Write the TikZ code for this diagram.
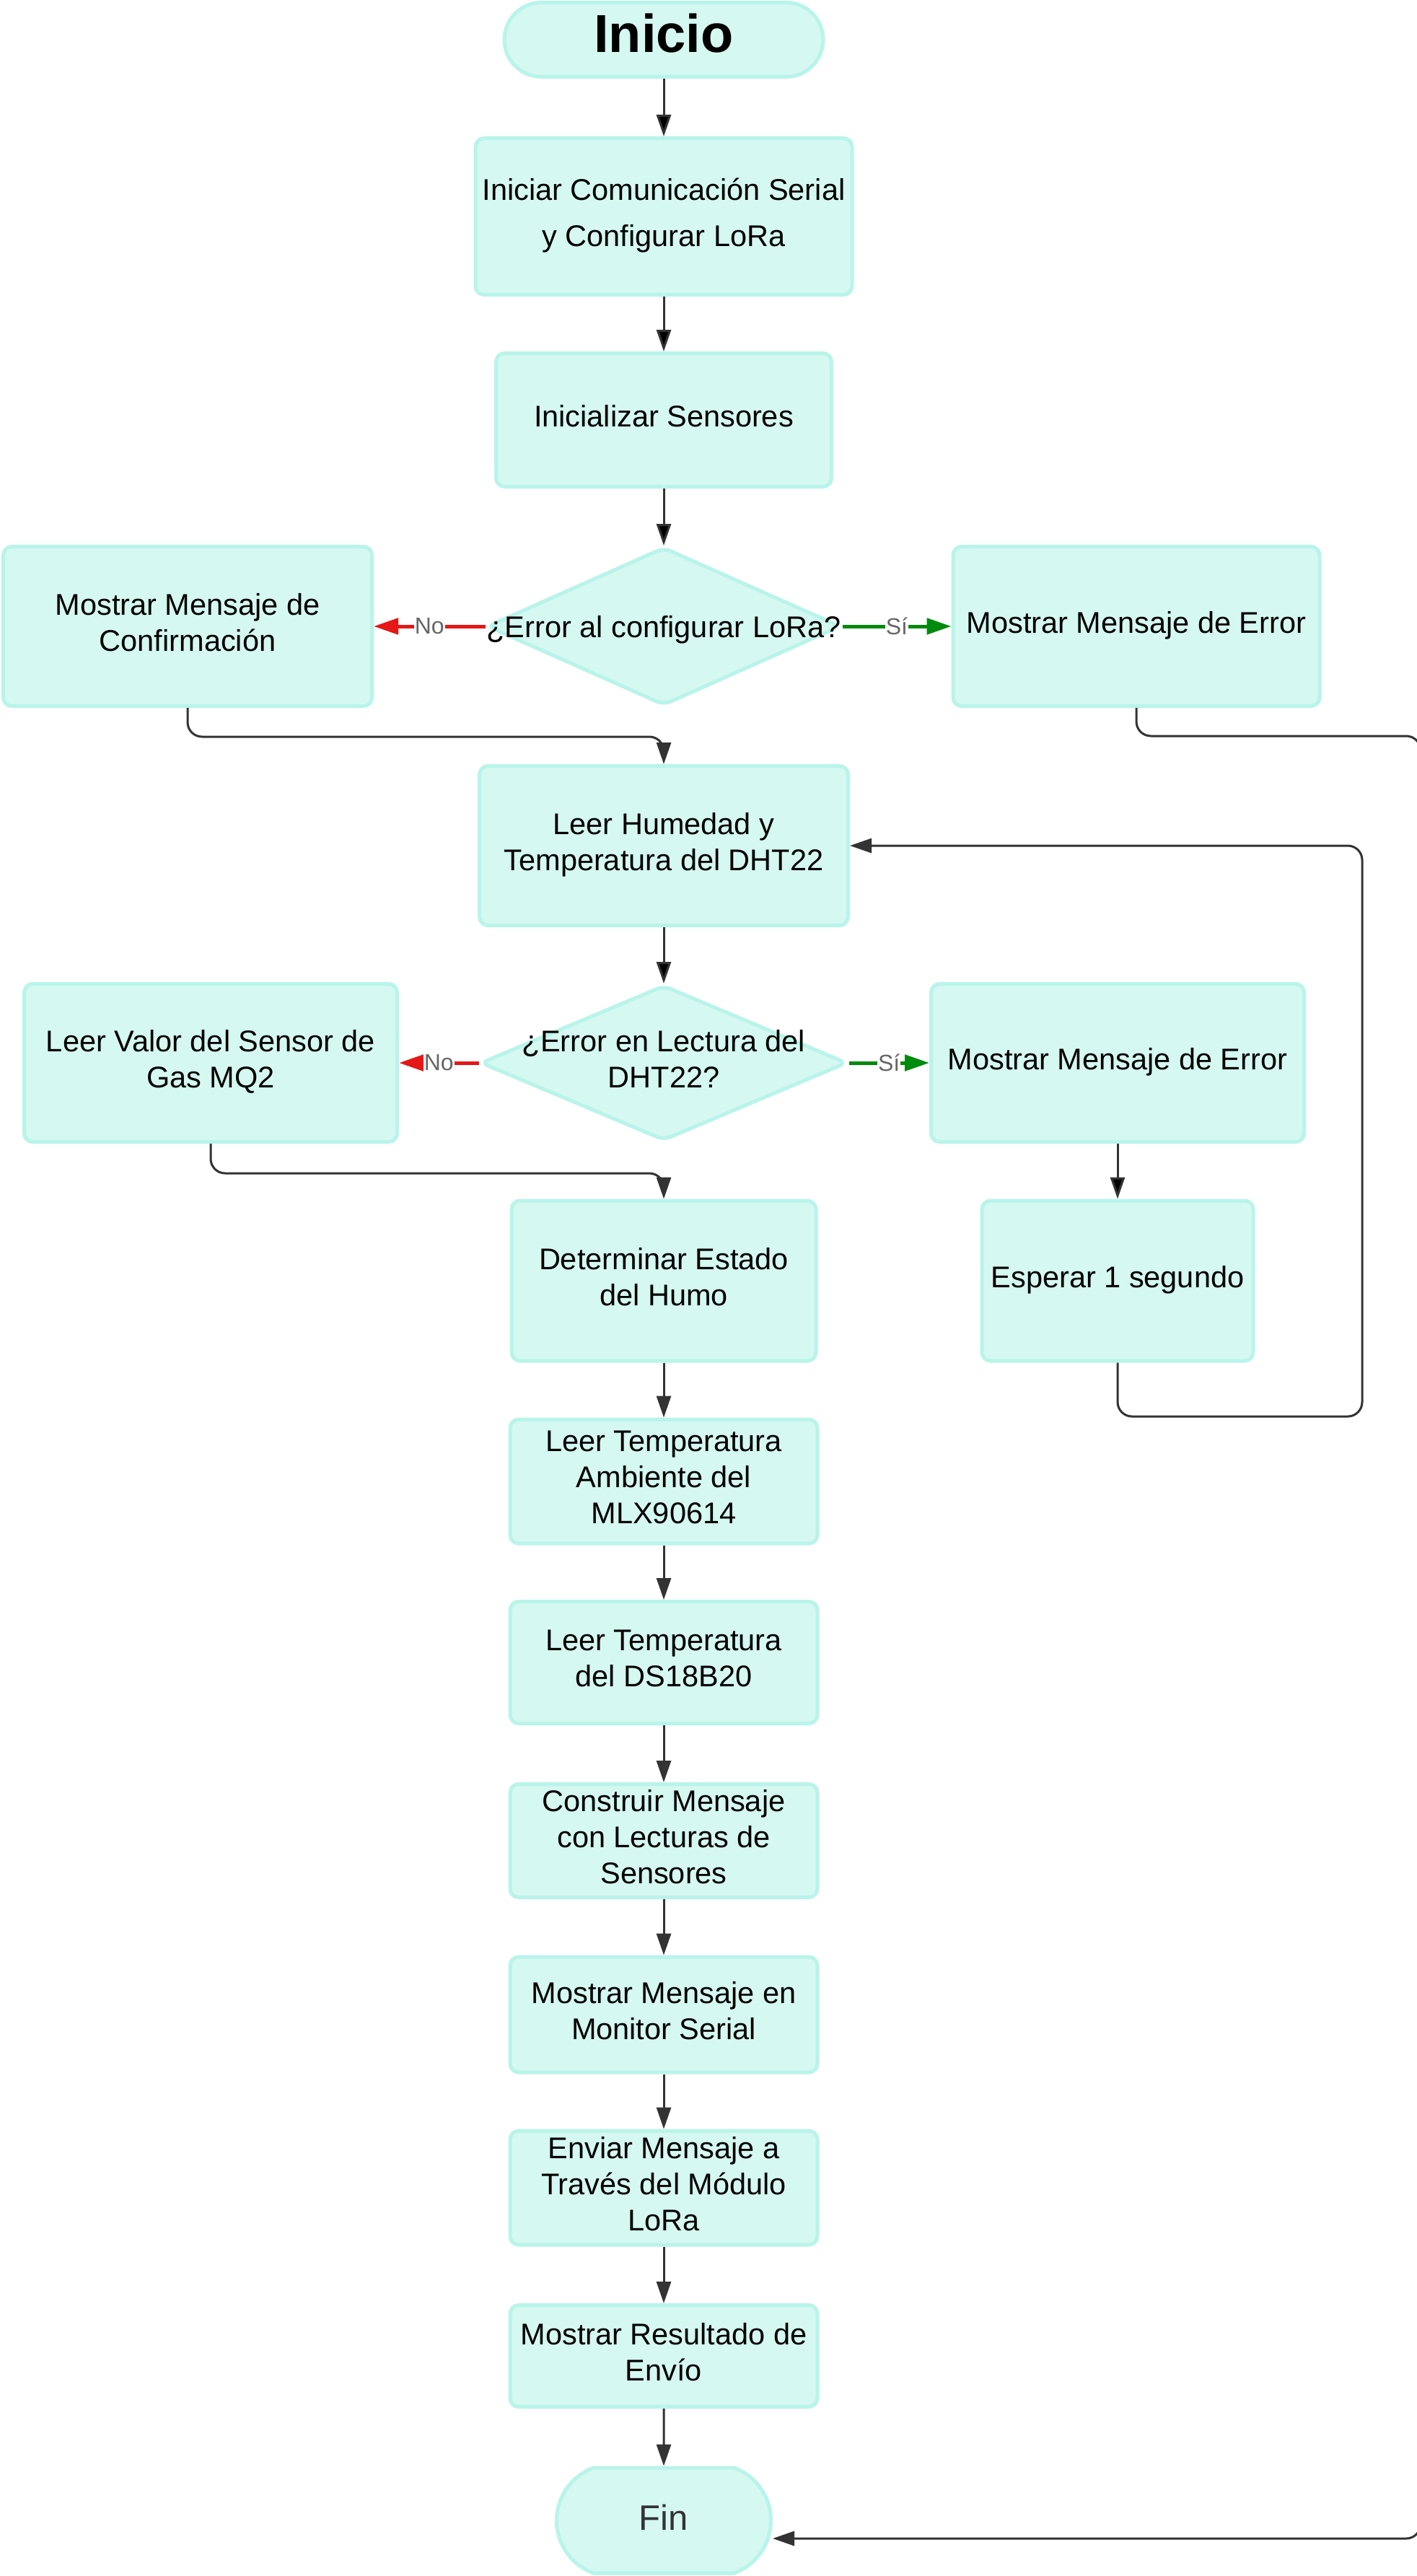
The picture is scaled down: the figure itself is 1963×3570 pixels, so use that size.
\documentclass[tikz,border=0pt]{standalone}
\usepackage{fontspec}
\setmainfont{Liberation Sans}
\usetikzlibrary{shapes.geometric,shapes.misc,arrows.meta}

\definecolor{mint}{HTML}{D5F8F1}
\definecolor{mintline}{HTML}{B8F4EA}
\definecolor{wiregray}{HTML}{333333}
\definecolor{nored}{HTML}{E51717}
\definecolor{sigreen}{HTML}{008A0E}
\definecolor{taggray}{HTML}{666666}

\begin{document}
\begin{tikzpicture}[x=1pt,y=-1pt,
    >={Triangle[length=30pt,width=20pt]},
    base/.style={draw=mintline,fill=mint,line width=5pt,inner sep=0pt,align=center,
                 text depth=12pt,font=\fontsize{41.5}{50}\selectfont},
    box/.style={base,shape=rectangle,rounded corners=12pt},
    term/.style={base,shape=rounded rectangle},
    decision/.style={base,shape=diamond,rounded corners=10pt},
    qtext/.style={inner sep=0pt,align=center,text depth=12pt,font=\fontsize{41.5}{50}\selectfont},
    wire/.style={draw=wiregray,line width=3pt,rounded corners=20pt},
    choice/.style={line width=5pt,-{Triangle[length=34pt,width=22pt]}},
    tag/.style={fill=white,text=taggray,inner sep=1pt,font=\fontsize{32}{32}\selectfont}
  ]
    \path[use as bounding box,fill=white] (0,0) rectangle (1963,3570);

    \node[term,minimum width=442pt,minimum height=103pt,text depth=18pt,
          font=\fontsize{74}{74}\selectfont\bfseries] (inicio) at (920,55) {Inicio};
    \node[box,minimum width=522pt,minimum height=217pt,
          font=\fontsize{41.5}{64}\selectfont] (serial) at (920,300)
          {Iniciar Comunicación Serial\\y Configurar LoRa};
    \node[box,minimum width=465pt,minimum height=185pt] (sensores) at (920,582) {Inicializar Sensores};

    \node[decision,minimum width=490pt,minimum height=219pt] (lora) at (920,868) {};
    \node[qtext,text depth=0pt] (lora-q) at (lora) {¿Error al configurar LoRa?};
    \node[box,minimum width=511pt,minimum height=221pt] (confirma) at (260,868)
          {Mostrar Mensaje de\\Confirmación};
    \node[box,minimum width=508pt,minimum height=221pt] (errlora) at (1575,868)
          {Mostrar Mensaje de Error};

    \node[box,minimum width=511pt,minimum height=221pt] (dht) at (920,1172)
          {Leer Humedad y\\Temperatura del DHT22};

    \node[decision,minimum width=508pt,minimum height=215pt] (lectura) at (920,1473) {};
    \node[qtext] (lectura-q) at (lectura) {¿Error en Lectura del\\DHT22?};
    \node[box,minimum width=517pt,minimum height=219pt] (gas) at (292,1473)
          {Leer Valor del Sensor de\\Gas MQ2};
    \node[box,minimum width=517pt,minimum height=219pt] (errdht) at (1549,1473)
          {Mostrar Mensaje de Error};

    \node[box,minimum width=422pt,minimum height=222pt] (humo) at (920,1775)
          {Determinar Estado\\del Humo};
    \node[box,minimum width=376pt,minimum height=222pt] (espera) at (1549,1775)
          {Esperar 1 segundo};

    % column of readings down to the end
    \foreach \nm/\cy/\hgt/\txt in {%
        mlx/2053/172/{Leer Temperatura\\Ambiente del\\MLX90614},
        ds/2304/169/{Leer Temperatura\\del DS18B20},
        construir/2551/157/{Construir Mensaje\\con Lecturas de\\Sensores},
        monitor/2792/160/{Mostrar Mensaje en\\Monitor Serial},
        enviar/3032/158/{Enviar Mensaje a\\Través del Módulo\\LoRa},
        resultado/3265/141/{Mostrar Resultado de\\Envío}}
      {\node[box,minimum width=426pt,minimum height=\hgt] (\nm) at (920,\cy) {\txt};}

    \node[term,rounded rectangle arc length=140,minimum width=297pt,minimum height=146pt,
          text depth=9pt,font=\fontsize{49}{49}\selectfont,text=wiregray] (fin) at (920,3493) {Fin};

    \coordinate (rim)  at (1969,1020);
    \coordinate (back) at (1888,1963);

    \path[wire,->] (inicio)   edge (serial)
                   (serial)   edge (sensores)
                   (sensores) edge (lora)
                   (dht)      edge (lectura)
                   (errdht)   edge (espera);

    \foreach \a/\b in {humo/mlx,mlx/ds,ds/construir,construir/monitor,
                       monitor/enviar,enviar/resultado,resultado/fin}
      {\draw[wire,->] (\a) -- (\b);}

    \path (lora)    edge[choice,draw=nored]   node[tag,midway] {No} (confirma)
          (lora)    edge[choice,draw=sigreen] node[tag,midway] {Sí} (errlora)
          (lectura) edge[choice,draw=nored]   node[tag,midway] {No} (gas)
          (lectura) edge[choice,draw=sigreen] node[tag,midway] {Sí} (errdht);

    \draw[wire,->] (confirma.south) -- ++(0,40) -| (dht.north);
    \draw[wire,->] (gas.south) -- ++(0,41) -| (humo.north);
    \draw[wire,->] (espera.south) |- (back) |- (dht.east);
    \draw[wire,->] (errlora.south) |- (rim) |- ([yshift=-25pt]fin.east);
\end{tikzpicture}
\end{document}
